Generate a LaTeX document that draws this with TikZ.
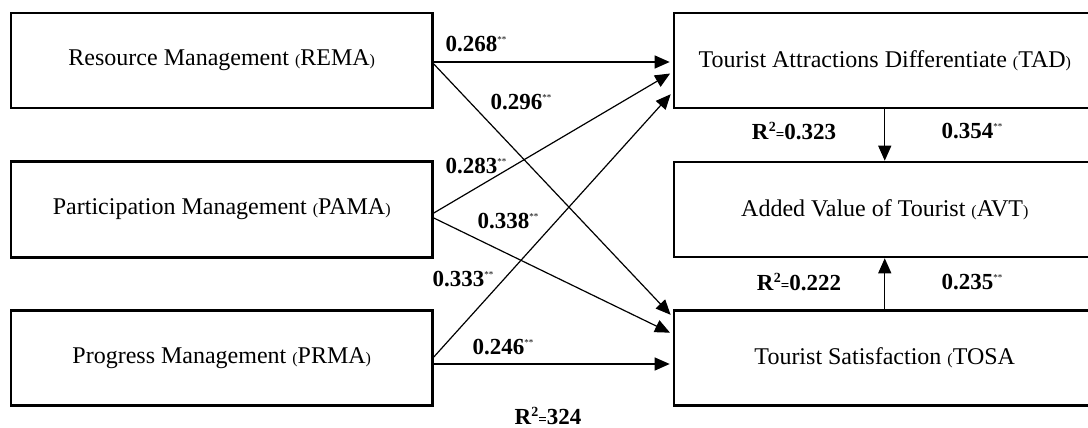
\documentclass[tikz,border=0pt]{standalone}
\usepackage{fontspec}
\setmainfont{Liberation Serif}
\usetikzlibrary{arrows.meta}
\newcommand{\pp}[1]{{\fontsize{16}{16}\selectfont #1}}
\newcommand{\stars}{\raisebox{9pt}{\fontsize{9}{9}\selectfont **}}
\newcommand{\coef}[1]{\textbf{#1}\stars}
\newcommand{\rsq}[1]{\textbf{R}\raisebox{7.5pt}{\fontsize{14}{14}\selectfont\bfseries 2}{\fontsize{15}{15}\selectfont\bfseries =}\textbf{#1}}
\tikzset{
  box/.style={draw, line width=2.6pt, minimum width=421.5pt, minimum height=95pt, inner sep=0pt,
    font=\fontsize{24}{28}\selectfont},
  conn/.style={line width=1.2pt, -{Triangle[length=15pt,width=13pt]}, shorten >=3pt},
  lbl/.style={inner sep=0pt, font=\fontsize{23}{26}\selectfont}
}
\begin{document}
\begin{tikzpicture}[x=1pt,y=-1pt]
\useasboundingbox (0,0) rectangle (1088,428);
% left boxes
\node[box] (REMA) at (221.75,60.5) {Resource Management \pp{(}REMA\pp{)}};
\node[box, minimum height=96pt] (PAMA) at (221.75,209.5) {Participation Management \pp{(}PAMA\pp{)}};
\node[box] (PRMA) at (221.75,358) {Progress Management \pp{(}PRMA\pp{)}};
% right boxes
\node[box] (TAD) at (884.75,60.5) {Tourist Attractions Differentiate \pp{(}TAD\pp{)}};
\node[box] (AVT) at (884.75,209.5) {Added Value of Tourist \pp{(}AVT\pp{)}};
\node[box] (TOSA) at (884.75,358) {Tourist Satisfaction \pp{(}TOSA};
% connectors
\draw[conn] ([yshift=-1.5pt]REMA.east) -- ([yshift=-1.5pt]TAD.west);
\draw[conn] ([yshift=-3.5pt]REMA.east) -- ([yshift=41pt]TOSA.west);
\draw[conn] ([yshift=-3.5pt]PAMA.east) -- ([yshift=-11.5pt]TAD.west);
\draw[conn] ([yshift=-8.5pt]PAMA.east) -- ([yshift=24pt]TOSA.west);
\draw[conn] ([yshift=1pt]PRMA.east) -- ([yshift=-31.5pt]TAD.west);
\draw[conn] ([yshift=-6pt]PRMA.east) -- ([yshift=-6pt]TOSA.west);
\draw[conn, shorten >=0pt] (TAD) -- (AVT);
\draw[conn, shorten >=0pt] (TOSA) -- (AVT);
% labels
\node[lbl] (l1) at (476,44) {\coef{0.268}};
\node[lbl] (l2) at (521,102) {\coef{0.296}};
\node[lbl] (l3) at (476,166) {\coef{0.283}};
\node[lbl] (l4) at (508,221) {\coef{0.338}};
\node[lbl] (l5) at (463,279) {\coef{0.333}};
\node[lbl] (l6) at (503,347) {\coef{0.246}};
\node[lbl] (l7) at (548,416) {\rsq{324}};
\node[lbl] (l8) at (794,131) {\rsq{0.323}};
\node[lbl] (l9) at (972,131) {\coef{0.354}};
\node[lbl] (l10) at (799,282) {\rsq{0.222}};
\node[lbl] (l11) at (972,282) {\coef{0.235}};
\end{tikzpicture}
\end{document}
